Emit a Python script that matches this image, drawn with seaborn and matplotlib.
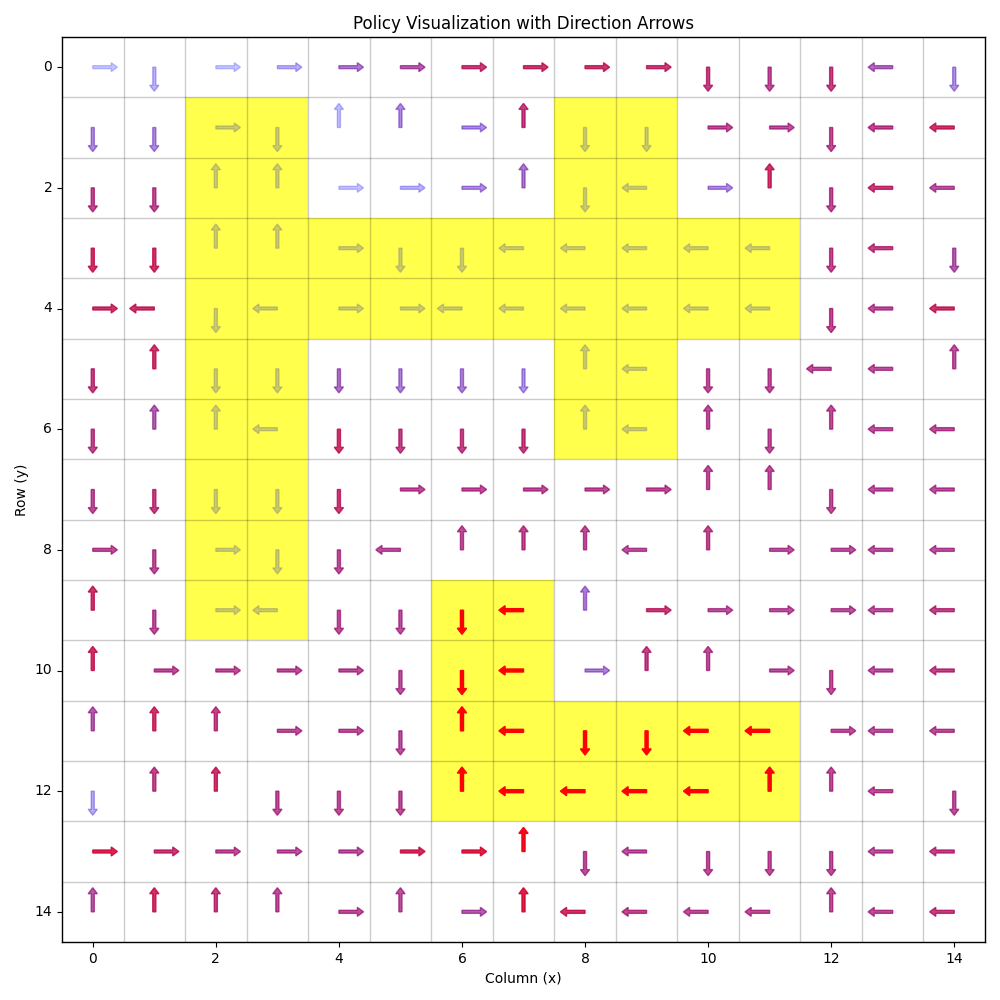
import numpy as np
import pandas as pd
import matplotlib
matplotlib.use("Agg")
import matplotlib.pyplot as plt
from matplotlib.colors import ListedColormap
import seaborn as sns

# ---- data ----
directions = [
    "RDRRRRRRRRDDDLD",
    "DDRDUURUDDRRDLL",
    "DDUURRRUDLRUDLL",
    "DDUURDDLLLLLDLD",
    "RLDLRRLLLLLLDLL",
    "DUDDDDDDULDDLLU",
    "DUULDDDDULUDULL",
    "DDDDDRRRRRUUDLL",
    "RDRDDLUUULURRLL",
    "UDRLDDDLURRRRLL",
    "URRRRDDLRUURDLL",
    "UUURRDULDDLLRLL",
    "DUUDDDULLLLUULD",
    "RRRRRRRUDLDDDLL",
    "UUUURURULLLLULL",
]

# '.' = normal cell, 'o' = blocked (grey arrow), 'p' = highlighted path (red arrow)
cell_types = [
    "...............",
    "..oo....oo.....",
    "..oo....oo.....",
    "..oooooooooo...",
    "..oooooooooo...",
    "..oo....oo.....",
    "..oo....oo.....",
    "..oo...........",
    "..oo...........",
    "..oo..pp.......",
    "......pp.......",
    "......pppppp...",
    "......pppppp...",
    "...............",
    "...............",
]

values = [
    [0.00, 0.10, 0.00, 0.12, 0.38, 0.52, 0.70, 0.72, 0.72, 0.70, 0.67, 0.60, 0.67, 0.46, 0.27],
    [0.30, 0.30, 0.00, 0.00, 0.05, 0.30, 0.28, 0.67, 0.00, 0.00, 0.61, 0.58, 0.61, 0.63, 0.73],
    [0.63, 0.61, 0.00, 0.00, 0.02, 0.10, 0.28, 0.38, 0.00, 0.00, 0.30, 0.73, 0.61, 0.70, 0.56],
    [0.75, 0.75, 0.00, 0.00, 0.00, 0.00, 0.00, 0.00, 0.00, 0.00, 0.00, 0.00, 0.63, 0.65, 0.52],
    [0.73, 0.73, 0.00, 0.00, 0.00, 0.00, 0.00, 0.00, 0.00, 0.00, 0.00, 0.00, 0.63, 0.60, 0.73],
    [0.67, 0.73, 0.00, 0.00, 0.43, 0.34, 0.34, 0.25, 0.00, 0.00, 0.60, 0.60, 0.60, 0.58, 0.58],
    [0.63, 0.50, 0.00, 0.00, 0.73, 0.65, 0.65, 0.67, 0.00, 0.00, 0.60, 0.60, 0.60, 0.58, 0.60],
    [0.60, 0.67, 0.00, 0.00, 0.70, 0.60, 0.60, 0.60, 0.60, 0.60, 0.60, 0.60, 0.60, 0.58, 0.58],
    [0.60, 0.60, 0.00, 0.00, 0.60, 0.58, 0.60, 0.63, 0.60, 0.58, 0.63, 0.58, 0.58, 0.58, 0.58],
    [0.73, 0.60, 0.00, 0.00, 0.60, 0.58, 1.00, 1.00, 0.36, 0.70, 0.58, 0.58, 0.58, 0.58, 0.65],
    [0.75, 0.60, 0.60, 0.60, 0.60, 0.58, 1.00, 1.00, 0.34, 0.65, 0.60, 0.58, 0.60, 0.58, 0.65],
    [0.52, 0.73, 0.65, 0.60, 0.60, 0.58, 1.00, 1.00, 1.00, 1.00, 1.00, 1.00, 0.60, 0.58, 0.60],
    [0.15, 0.63, 0.73, 0.60, 0.60, 0.60, 1.00, 1.00, 1.00, 1.00, 1.00, 0.97, 0.60, 0.60, 0.60],
    [0.80, 0.70, 0.60, 0.58, 0.58, 0.77, 0.83, 0.94, 0.60, 0.58, 0.60, 0.60, 0.60, 0.58, 0.65],
    [0.55, 0.75, 0.67, 0.60, 0.60, 0.58, 0.52, 0.83, 0.75, 0.63, 0.60, 0.60, 0.60, 0.60, 0.67],
]

tick_values = list(range(0, 15, 2))

# ---- plotting ----
n = len(directions)
highlight = np.array([[1.0 if c != '.' else np.nan for c in row] for row in cell_types])
hl_df = pd.DataFrame(highlight)

fig, ax = plt.subplots(figsize=(10, 10), dpi=100)
sns.heatmap(hl_df, ax=ax, cmap=ListedColormap(["yellow"]), vmin=0, vmax=1,
            alpha=0.7, cbar=False, xticklabels=False, yticklabels=False)

for s in ax.spines.values():
    s.set_visible(True)
    s.set_color("black")
    s.set_linewidth(1.0)

# grid lines at cell borders
for k in range(1, n):
    ax.axvline(k, color="black", alpha=0.2, lw=1.0, zorder=1.5)
    ax.axhline(k, color="black", alpha=0.2, lw=1.0, zorder=1.5)

step = {"R": (0.4, 0.0), "L": (-0.4, 0.0), "U": (0.0, -0.4), "D": (0.0, 0.4)}
for r in range(n):
    for c in range(n):
        dx, dy = step[directions[r][c]]
        t = cell_types[r][c]
        if t == 'o':
            col, a = (0.5, 0.5, 0.5), 0.4
        else:
            v = values[r][c]
            col, a = (v, 0.0, 1.0 - v), min(1.0, 0.22 + 0.78 * v)
        ax.arrow(c + 0.5, r + 0.5, dx, dy, width=0.05, head_width=0.15,
                 head_length=0.1, length_includes_head=True,
                 fc=col, ec=col, alpha=a, zorder=2)

ax.set_xlim(0, n)
ax.set_ylim(n, 0)
ax.set_xticks([t + 0.5 for t in tick_values])
ax.set_xticklabels([str(t) for t in tick_values], rotation=0)
ax.set_yticks([t + 0.5 for t in tick_values])
ax.set_yticklabels([str(t) for t in tick_values], rotation=0, va="center")
ax.tick_params(axis="both", which="major", length=3.5, width=0.8, labelsize=10)

ax.set_title("Policy Visualization with Direction Arrows", fontsize=12)
ax.set_xlabel("Column (x)", fontsize=10)
ax.set_ylabel("Row (y)", fontsize=10)

fig.subplots_adjust(left=0.062, right=0.985, bottom=0.058, top=0.963)
fig.savefig("out.png", dpi=100)
